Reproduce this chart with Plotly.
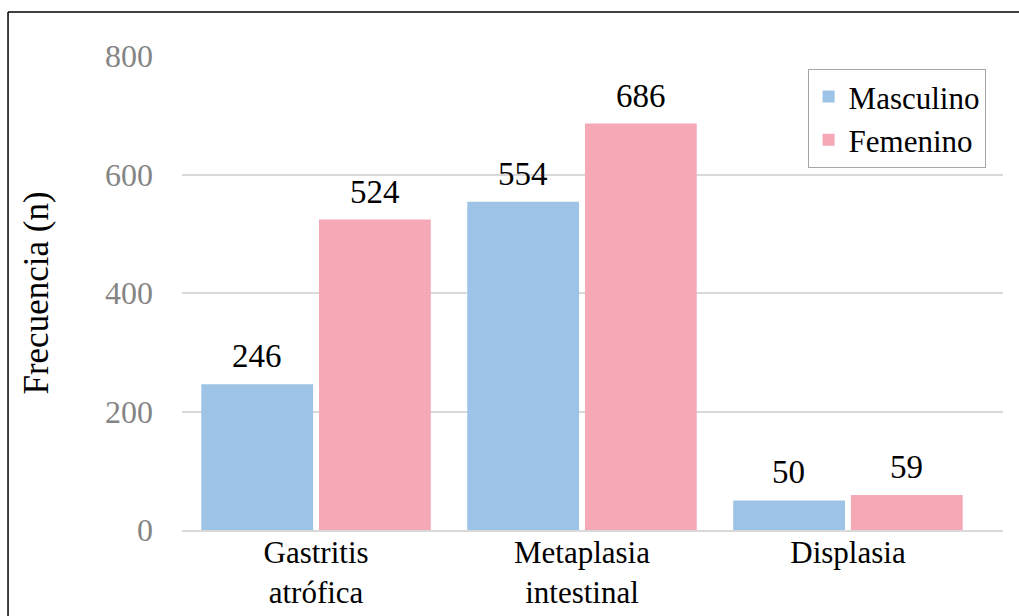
import plotly.graph_objects as go

# Data
categories = ["Gastritis<br>atrófica", "Metaplasia<br>intestinal", "Displasia"]
masculino = [246, 554, 50]
femenino = [524, 686, 59]
y_ticks = [0, 200, 400, 600, 800]

BLUE = "#9DC3E6"
PINK = "#F5A8B6"
FONT = "Liberation Serif"

fig = go.Figure()
fig.add_trace(go.Bar(name="Masculino", x=categories, y=masculino,
                     marker=dict(color=BLUE, line=dict(width=0))))
fig.add_trace(go.Bar(name="Femenino", x=categories, y=femenino,
                     marker=dict(color=PINK, line=dict(width=0))))

# Value labels above each bar
offset_px = 59
for vals, sh in ((masculino, -offset_px), (femenino, offset_px)):
    for cat, v in zip(categories, vals):
        fig.add_annotation(x=cat, y=v, text=str(v), showarrow=False,
                           xshift=sh, yshift=8, yanchor="bottom",
                           font=dict(family=FONT, size=33, color="#000000"))

# Frame lines along the top and left edge
fig.add_shape(type="line", xref="paper", yref="paper",
              x0=-0.2119, x1=1.03, y0=1.0928, y1=1.0928,
              line=dict(color="#000000", width=1.5))
fig.add_shape(type="line", xref="paper", yref="paper",
              x0=-0.2119, x1=-0.2119, y0=1.0928, y1=-0.2,
              line=dict(color="#000000", width=1.5))

fig.update_layout(
    width=1019, height=616,
    margin=dict(l=182, r=16, t=56, b=86),
    paper_bgcolor="white", plot_bgcolor="white",
    barmode="group", bargap=0.115, bargroupgap=0.05,
    font=dict(family=FONT, size=32, color="#000000"),
    showlegend=True,
    legend=dict(x=0.762, y=0.973, xanchor="left", yanchor="top",
                bordercolor="#a6a6a6", borderwidth=1,
                font=dict(family=FONT, size=31, color="#000000"),
                itemwidth=30, tracegroupgap=0, traceorder="normal",
                bgcolor="white"),
    xaxis=dict(showgrid=False, showline=True, linecolor="#d9d9d9", linewidth=1.5,
               range=[-0.504, 2.583],
               ticks="", automargin=False, ticklabelstandoff=-6,
               tickfont=dict(family=FONT, size=31, color="#000000")),
    yaxis=dict(range=[0, 800], tickvals=y_ticks, showgrid=True,
               gridcolor="#d9d9d9", gridwidth=1.5, zeroline=False,
               showline=False, ticks="", ticklabelstandoff=28, automargin=False,
               tickfont=dict(family=FONT, size=32, color="#858585"),
               title=dict(text="Frecuencia (n)", standoff=45,
                          font=dict(family=FONT, size=35, color="#000000"))),
)

fig.write_html("out.html")
